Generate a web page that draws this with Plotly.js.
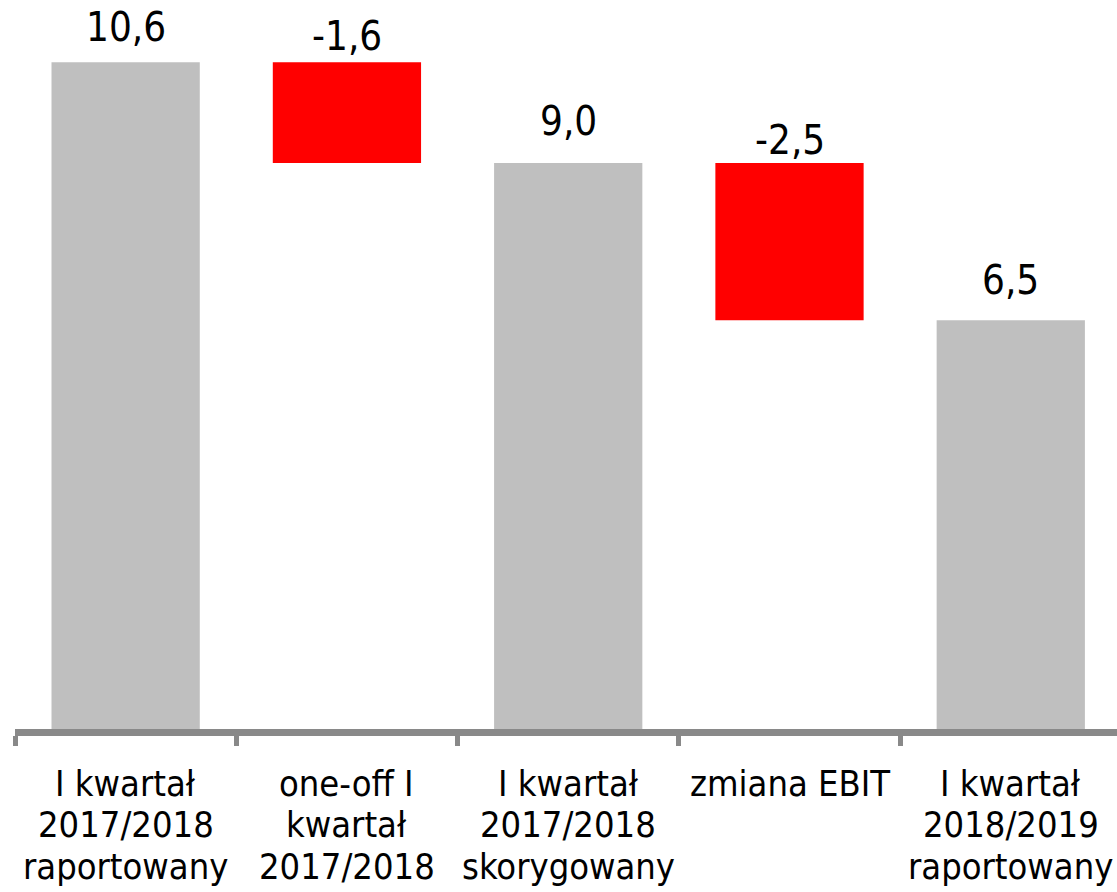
<!DOCTYPE html>
<html>
<head>
<meta charset="utf-8">
<script src="https://cdn.plot.ly/plotly-3.0.1.min.js"></script>
<style>html,body{margin:0;padding:0;background:#fff;}#chart{width:1117px;height:892px;}</style>
</head>
<body>
<div id="chart"></div>
<script>
// Category tick labels (one entry per line)
const catLines = [
  ["I kwartał", "2017/2018", "raportowany"],
  ["one-off I", "kwartał", "2017/2018"],
  ["I kwartał", "2017/2018", "skorygowany"],
  ["zmiana EBIT"],
  ["I kwartał", "2018/2019", "raportowany"]
];
const categories = catLines.map(l => l.join(" "));
// Series values
const measures = ["absolute", "relative", "total", "relative", "total"];
const values = [10.6, -1.6, 9.0, -2.5, 6.5];

// Styles (kept apart from data)
const FONT = "DejaVu Sans Condensed, DejaVu Sans, sans-serif";
const GRAY = "#bfbfbf", RED = "#ff0000", AXIS = "#898989";
const labelShift = [35, 26, 42, 23, 40];   // px above the bar top (text centre)
const lineShift = [-54, -95, -137];        // px below baseline per label line

// running totals for label anchoring
let run = 0;
const tops = values.map((v, i) => {
  const m = measures[i];
  let top;
  if (m === "absolute") { run = v; top = v; }
  else if (m === "total") { top = run; }
  else { const prev = run; run += v; top = Math.max(prev, run); }
  return top;
});

const annotations = [];
values.forEach((v, i) => {
  annotations.push({
    x: categories[i], y: tops[i], xref: "x", yref: "y",
    text: v.toFixed(1).replace(".", ","), showarrow: false,
    xanchor: "center", yanchor: "middle", yshift: labelShift[i],
    font: {family: FONT, size: 40, color: "#000"}
  });
});
catLines.forEach((lines, i) => {
  lines.forEach((t, j) => {
    annotations.push({
      x: categories[i], y: 0, xref: "x", yref: "paper",
      text: t, showarrow: false, xanchor: "center", yanchor: "middle",
      yshift: lineShift[j], font: {family: FONT, size: 36, color: "#000"}
    });
  });
});

const trace = {
  type: "waterfall",
  x: categories,
  y: values,
  measure: measures,
  width: 0.67,
  connector: {visible: false},
  decreasing: {marker: {color: RED}},
  increasing: {marker: {color: GRAY}},
  totals: {marker: {color: GRAY}},
  textinfo: "none",
  hoverinfo: "skip"
};

const layout = {
  width: 1117, height: 892,
  margin: {l: 15, r: 0, t: 0, b: 163, pad: 0},
  paper_bgcolor: "#fff", plot_bgcolor: "#fff",
  showlegend: false,
  xaxis: {
    type: "category", range: [-0.5, 4.48],
    showline: true, linewidth: 7, linecolor: AXIS,
    ticks: "outside", tickson: "boundaries", ticklen: 10, tickwidth: 5, tickcolor: AXIS,
    showticklabels: false, showgrid: false, zeroline: false, fixedrange: true
  },
  yaxis: {range: [0, 11.59], visible: false, fixedrange: true},
  annotations: annotations
};

Plotly.newPlot("chart", [trace], layout, {displayModeBar: false, staticPlot: true});
</script>
</body>
</html>
